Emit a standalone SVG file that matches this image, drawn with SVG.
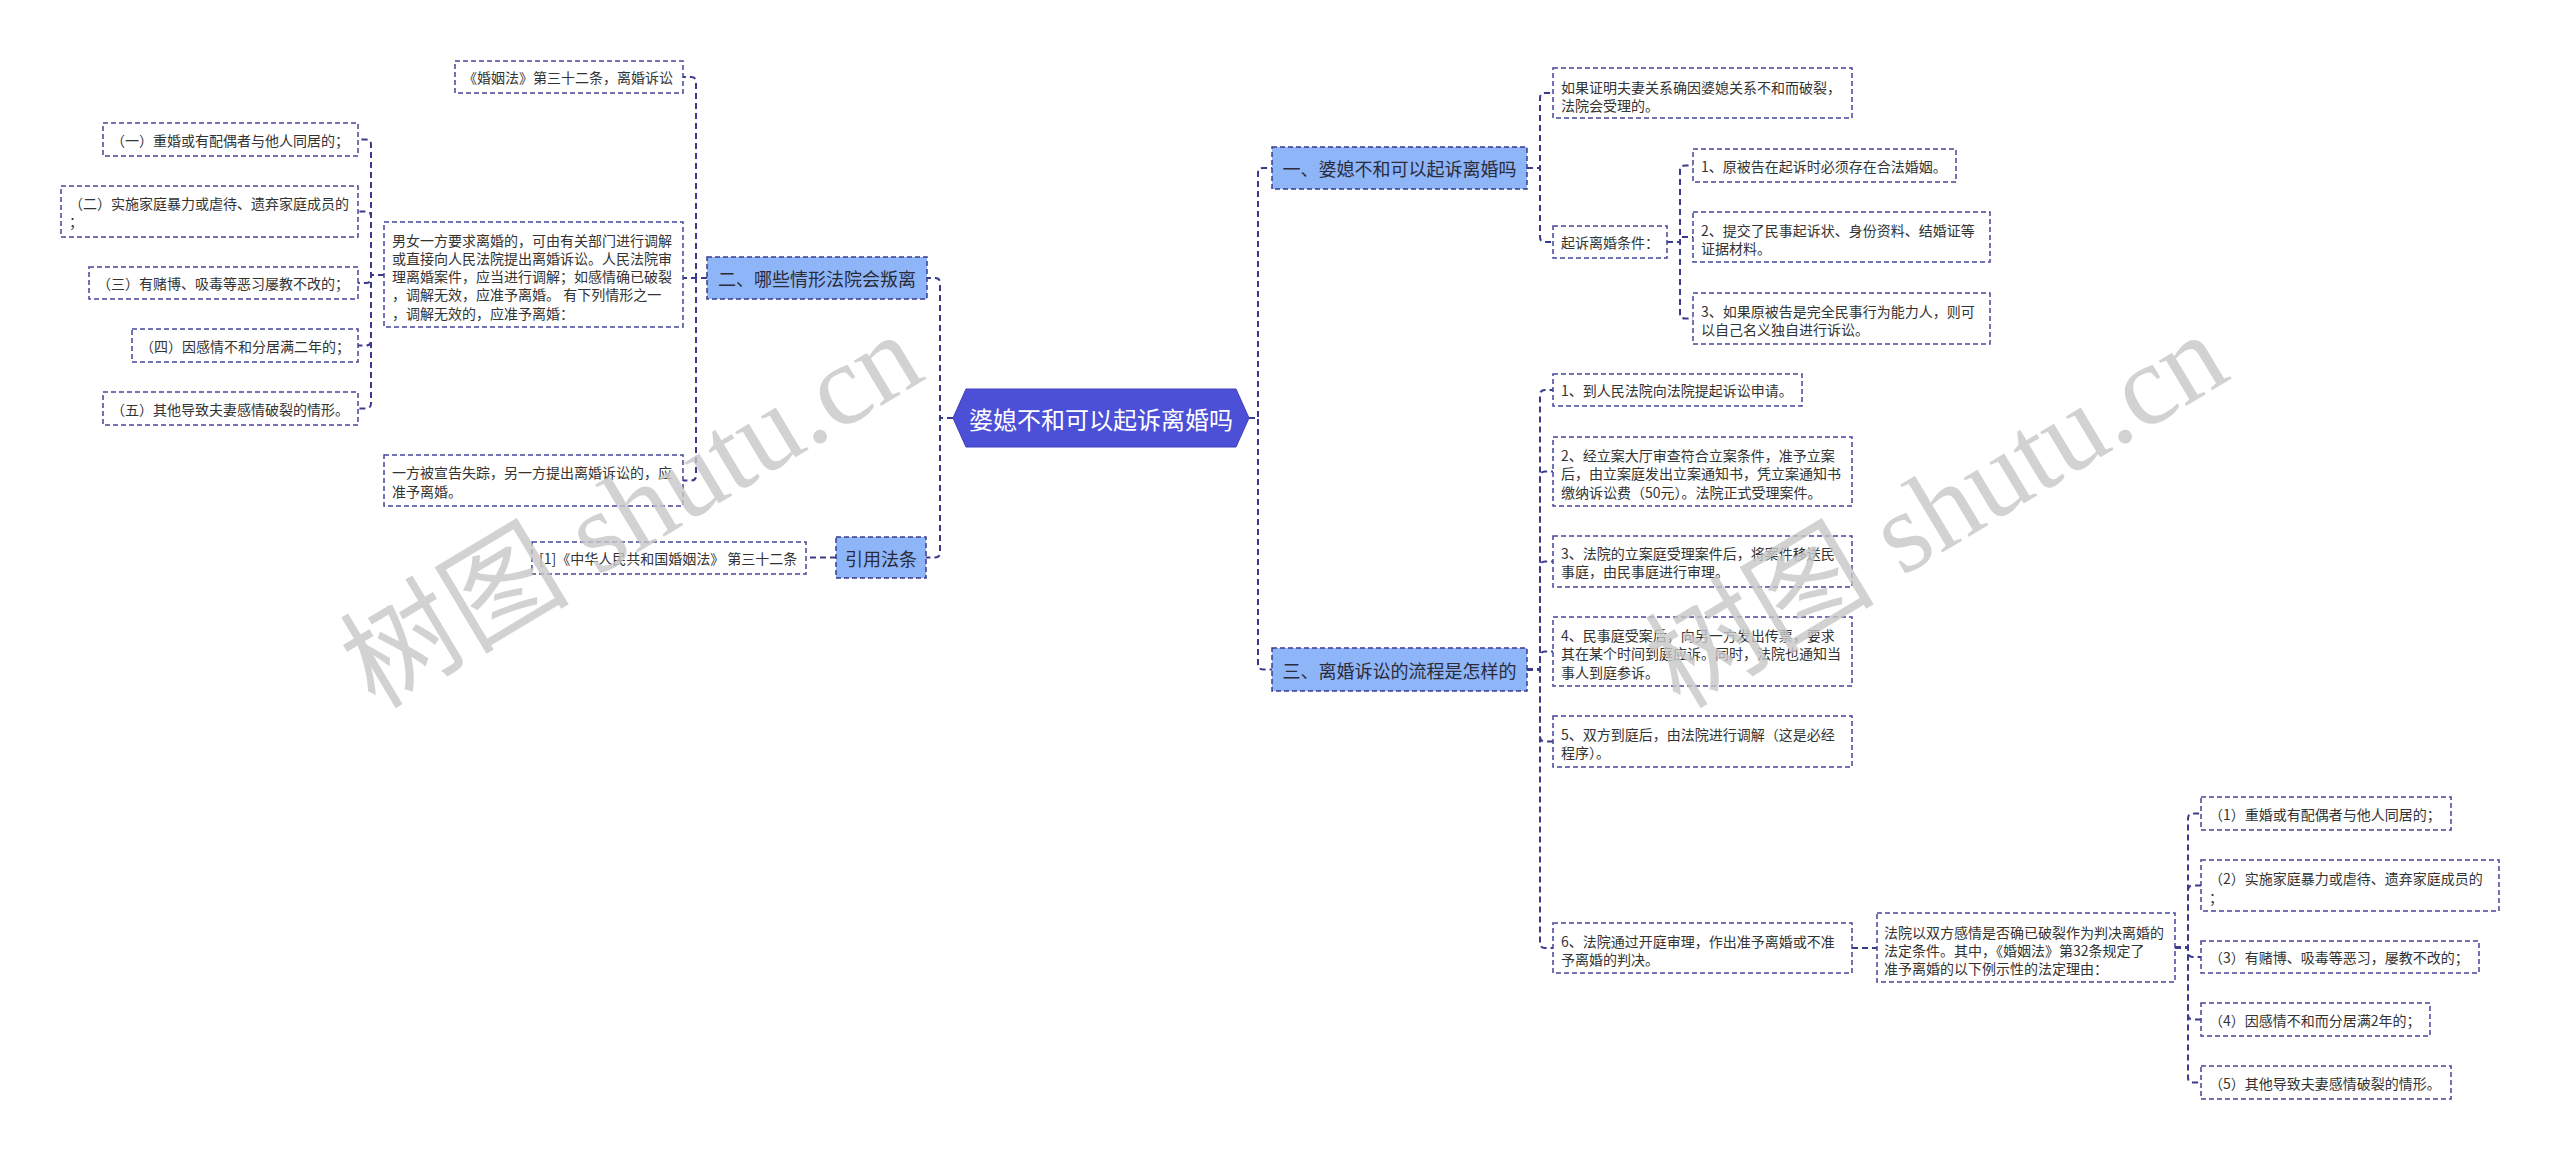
<svg xmlns="http://www.w3.org/2000/svg" width="2560" height="1160" viewBox="0 0 2560 1160">
<style>
.box{fill:#fff;stroke:#45459a;stroke-width:1.5;stroke-dasharray:5 3}
.l1{fill:#8eb5f7;stroke:#3a3a90;stroke-width:1.5;stroke-dasharray:5 3}
.t{font-family:"Noto Sans CJK SC","Noto Sans",sans-serif;font-size:14px;fill:#333;dominant-baseline:central}
.t1{font-family:"Noto Sans CJK SC","Noto Sans",sans-serif;font-size:18px;fill:#2b2b3a;dominant-baseline:central;text-anchor:middle}
.conn path{fill:none;stroke:#3a3a8c;stroke-width:2;stroke-dasharray:6 4}
.wm{font-family:"Liberation Serif","Noto Sans CJK SC",serif;font-size:115px;fill:#c8c8c8;opacity:0.8}
</style>
<rect width="2560" height="1160" fill="#fff"/>
<g class="conn" id="connectors">
<path d="M953 418 H940 V283 Q940 278 935 278 H927"/>
<path d="M953 418 H940 V552.5 Q940 557.5 935 557.5 H926"/>
<path d="M1249 418 H1258 V173 Q1258 168 1263 168 H1272"/>
<path d="M1249 418 H1258 V664.5 Q1258 669.5 1263 669.5 H1272"/>
<path d="M707 278 H696 V82 Q696 77 691 77 H683"/>
<path d="M707 278 H683"/>
<path d="M707 278 H696 V475.5 Q696 480.5 691 480.5 H683"/>
<path d="M384 275 H371 V144.5 Q371 139.5 366 139.5 H358"/>
<path d="M384 275 H371 V216.5 Q371 211.5 366 211.5 H358"/>
<path d="M384 275 H371 V278 Q371 283 366 283 H358"/>
<path d="M384 275 H371 V340.5 Q371 345.5 366 345.5 H358"/>
<path d="M384 275 H371 V403.5 Q371 408.5 366 408.5 H358"/>
<path d="M836 557.5 H806"/>
<path d="M1527 168 H1540 V98 Q1540 93 1545 93 H1553"/>
<path d="M1527 168 H1540 V237 Q1540 242 1545 242 H1553"/>
<path d="M1667 242 H1680 V170.5 Q1680 165.5 1685 165.5 H1693"/>
<path d="M1667 242 H1680 V237 H1693"/>
<path d="M1667 242 H1680 V313.5 Q1680 318.5 1685 318.5 H1693"/>
<path d="M1527 669.5 H1540 V395 Q1540 390 1545 390 H1553"/>
<path d="M1527 669.5 H1540 V476.5 Q1540 471.5 1545 471.5 H1553"/>
<path d="M1527 669.5 H1540 V566.5 Q1540 561.5 1545 561.5 H1553"/>
<path d="M1527 669.5 H1540 V656.5 Q1540 651.5 1545 651.5 H1553"/>
<path d="M1527 669.5 H1540 V736.5 Q1540 741.5 1545 741.5 H1553"/>
<path d="M1527 669.5 H1540 V943 Q1540 948 1545 948 H1553"/>
<path d="M1852 948 H1877"/>
<path d="M2175 947.5 H2188 V818.5 Q2188 813.5 2193 813.5 H2201"/>
<path d="M2175 947.5 H2188 V890.5 Q2188 885.5 2193 885.5 H2201"/>
<path d="M2175 947.5 H2188 V952 Q2188 957 2193 957 H2201"/>
<path d="M2175 947.5 H2188 V1014.5 Q2188 1019.5 2193 1019.5 H2201"/>
<path d="M2175 947.5 H2188 V1077.5 Q2188 1082.5 2193 1082.5 H2201"/>
</g>
<g id="root">
<polygon points="953,418 966,389 1236,389 1249,418 1236,447 966,447" fill="#4b50d6" stroke="#3c40b8" stroke-width="1"/>
<text x="1101" y="418" font-family="'Noto Sans CJK SC',sans-serif" font-size="24" fill="#fff" text-anchor="middle" dominant-baseline="central">婆媳不和可以起诉离婚吗</text>
</g>
<g id="n-l2"><rect class="l1" x="707" y="257" width="220" height="42"/><text class="t1" x="817" y="278">二、哪些情形法院会叛离</text></g>
<g id="n-marriage"><rect class="box" x="455" y="61" width="228" height="32"/><text class="t" x="463" y="77">《婚姻法》第三十二条，离婚诉讼</text></g>
<g id="n-nanu"><rect class="box" x="384" y="222" width="299" height="105"/>
<text class="t" x="392" y="239.5">男女一方要求离婚的，可由有关部门进行调解</text>
<text class="t" x="392" y="257.8">或直接向人民法院提出离婚诉讼。人民法院审</text>
<text class="t" x="392" y="276.1">理离婚案件，应当进行调解；如感情确已破裂</text>
<text class="t" x="392" y="294.4">，调解无效，应准予离婚。 有下列情形之一</text>
<text class="t" x="392" y="312.7">，调解无效的，应准予离婚：</text></g>
<g id="n-l-1"><rect class="box" x="103" y="123" width="255" height="33"/><text class="t" x="111" y="139.5">（一）重婚或有配偶者与他人同居的；</text></g>
<g id="n-l-2"><rect class="box" x="61" y="186" width="297" height="51"/><text class="t" x="69" y="202.5">（二）实施家庭暴力或虐待、遗弃家庭成员的</text><text class="t" x="69" y="220.8">；</text></g>
<g id="n-l-3"><rect class="box" x="89" y="267" width="269" height="32"/><text class="t" x="97" y="283">（三）有赌博、吸毒等恶习屡教不改的；</text></g>
<g id="n-l-4"><rect class="box" x="132" y="329" width="226" height="33"/><text class="t" x="140" y="345.5">（四）因感情不和分居满二年的；</text></g>
<g id="n-l-5"><rect class="box" x="103" y="392" width="255" height="33"/><text class="t" x="111" y="408.5">（五）其他导致夫妻感情破裂的情形。</text></g>
<g id="n-missing"><rect class="box" x="384" y="455" width="299" height="51"/>
<text class="t" x="392" y="472">一方被宣告失踪，另一方提出离婚诉讼的，应</text>
<text class="t" x="392" y="490.5">准予离婚。</text></g>
<g id="n-cite"><rect class="l1" x="836" y="537" width="90" height="41"/><text class="t1" x="881" y="557.5">引用法条</text></g>
<g id="n-cite-1"><rect class="box" x="532" y="542" width="274" height="32"/><text class="t" x="539" y="558">[1]《中华人民共和国婚姻法》 第三十二条</text></g>
<g id="n-r1"><rect class="l1" x="1272" y="147" width="255" height="42"/><text class="t1" x="1399.5" y="168">一、婆媳不和可以起诉离婚吗</text></g>
<g id="n-r1-a"><rect class="box" x="1553" y="68" width="299" height="50"/>
<text class="t" x="1561" y="86.5">如果证明夫妻关系确因婆媳关系不和而破裂，</text>
<text class="t" x="1561" y="104.5">法院会受理的。</text></g>
<g id="n-r1-b"><rect class="box" x="1553" y="226" width="114" height="32"/><text class="t" x="1561" y="242">起诉离婚条件：</text></g>
<g id="n-r1-b1"><rect class="box" x="1693" y="149" width="263" height="33"/><text class="t" x="1701" y="165.5">1、原被告在起诉时必须存在合法婚姻。</text></g>
<g id="n-r1-b2"><rect class="box" x="1693" y="212" width="297" height="50"/>
<text class="t" x="1701" y="230">2、提交了民事起诉状、身份资料、结婚证等</text>
<text class="t" x="1701" y="248.3">证据材料。</text></g>
<g id="n-r1-b3"><rect class="box" x="1693" y="293" width="297" height="51"/>
<text class="t" x="1701" y="310.5">3、如果原被告是完全民事行为能力人，则可</text>
<text class="t" x="1701" y="328.5">以自己名义独自进行诉讼。</text></g>
<g id="n-r3"><rect class="l1" x="1272" y="648" width="255" height="43"/><text class="t1" x="1399.5" y="669.5">三、离婚诉讼的流程是怎样的</text></g>
<g id="n-r3-1"><rect class="box" x="1553" y="374" width="249" height="32"/><text class="t" x="1561" y="390">1、到人民法院向法院提起诉讼申请。</text></g>
<g id="n-r3-2"><rect class="box" x="1553" y="437" width="299" height="69"/>
<text class="t" x="1561" y="455">2、经立案大厅审查符合立案条件，准予立案</text>
<text class="t" x="1561" y="473.3">后，由立案庭发出立案通知书，凭立案通知书</text>
<text class="t" x="1561" y="491.6">缴纳诉讼费（50元）。法院正式受理案件。</text></g>
<g id="n-r3-3"><rect class="box" x="1553" y="536" width="299" height="51"/>
<text class="t" x="1561" y="553">3、法院的立案庭受理案件后，将案件移送民</text>
<text class="t" x="1561" y="571.3">事庭，由民事庭进行审理。</text></g>
<g id="n-r3-4"><rect class="box" x="1553" y="617" width="299" height="69"/>
<text class="t" x="1561" y="635">4、民事庭受案后，向另一方发出传票，要求</text>
<text class="t" x="1561" y="653.3">其在某个时间到庭应诉。同时，法院也通知当</text>
<text class="t" x="1561" y="671.6">事人到庭参诉。</text></g>
<g id="n-r3-5"><rect class="box" x="1553" y="716" width="299" height="51"/>
<text class="t" x="1561" y="733.5">5、双方到庭后，由法院进行调解（这是必经</text>
<text class="t" x="1561" y="751.8">程序）。</text></g>
<g id="n-r3-6"><rect class="box" x="1553" y="923" width="299" height="50"/>
<text class="t" x="1561" y="941">6、法院通过开庭审理，作出准予离婚或不准</text>
<text class="t" x="1561" y="959.3">予离婚的判决。</text></g>
<g id="n-r3-6a"><rect class="box" x="1877" y="913" width="298" height="69"/>
<text class="t" x="1884" y="931.5">法院以双方感情是否确已破裂作为判决离婚的</text>
<text class="t" x="1884" y="949.8">法定条件。其中，《婚姻法》第32条规定了</text>
<text class="t" x="1884" y="968.1">准予离婚的以下例示性的法定理由：</text></g>
<g id="n-r-1"><rect class="box" x="2201" y="797" width="250" height="33"/><text class="t" x="2209" y="813.5">（1）重婚或有配偶者与他人同居的；</text></g>
<g id="n-r-2"><rect class="box" x="2201" y="860" width="298" height="51"/>
<text class="t" x="2209" y="878.3">（2）实施家庭暴力或虐待、遗弃家庭成员的</text>
<text class="t" x="2209" y="896.6">；</text></g>
<g id="n-r-3"><rect class="box" x="2201" y="941" width="278" height="32"/><text class="t" x="2209" y="957">（3）有赌博、吸毒等恶习，屡教不改的；</text></g>
<g id="n-r-4"><rect class="box" x="2201" y="1003" width="229" height="33"/><text class="t" x="2209" y="1019.5">（4）因感情不和而分居满2年的；</text></g>
<g id="n-r-5"><rect class="box" x="2201" y="1066" width="250" height="33"/><text class="t" x="2209" y="1082.5">（5）其他导致夫妻感情破裂的情形。</text></g>
<g id="watermark">
<text class="wm" transform="translate(375,710) rotate(-31)">树图 shutu.cn</text>
<text class="wm" transform="translate(1680,710) rotate(-31)">树图 shutu.cn</text>
</g>
</svg>
